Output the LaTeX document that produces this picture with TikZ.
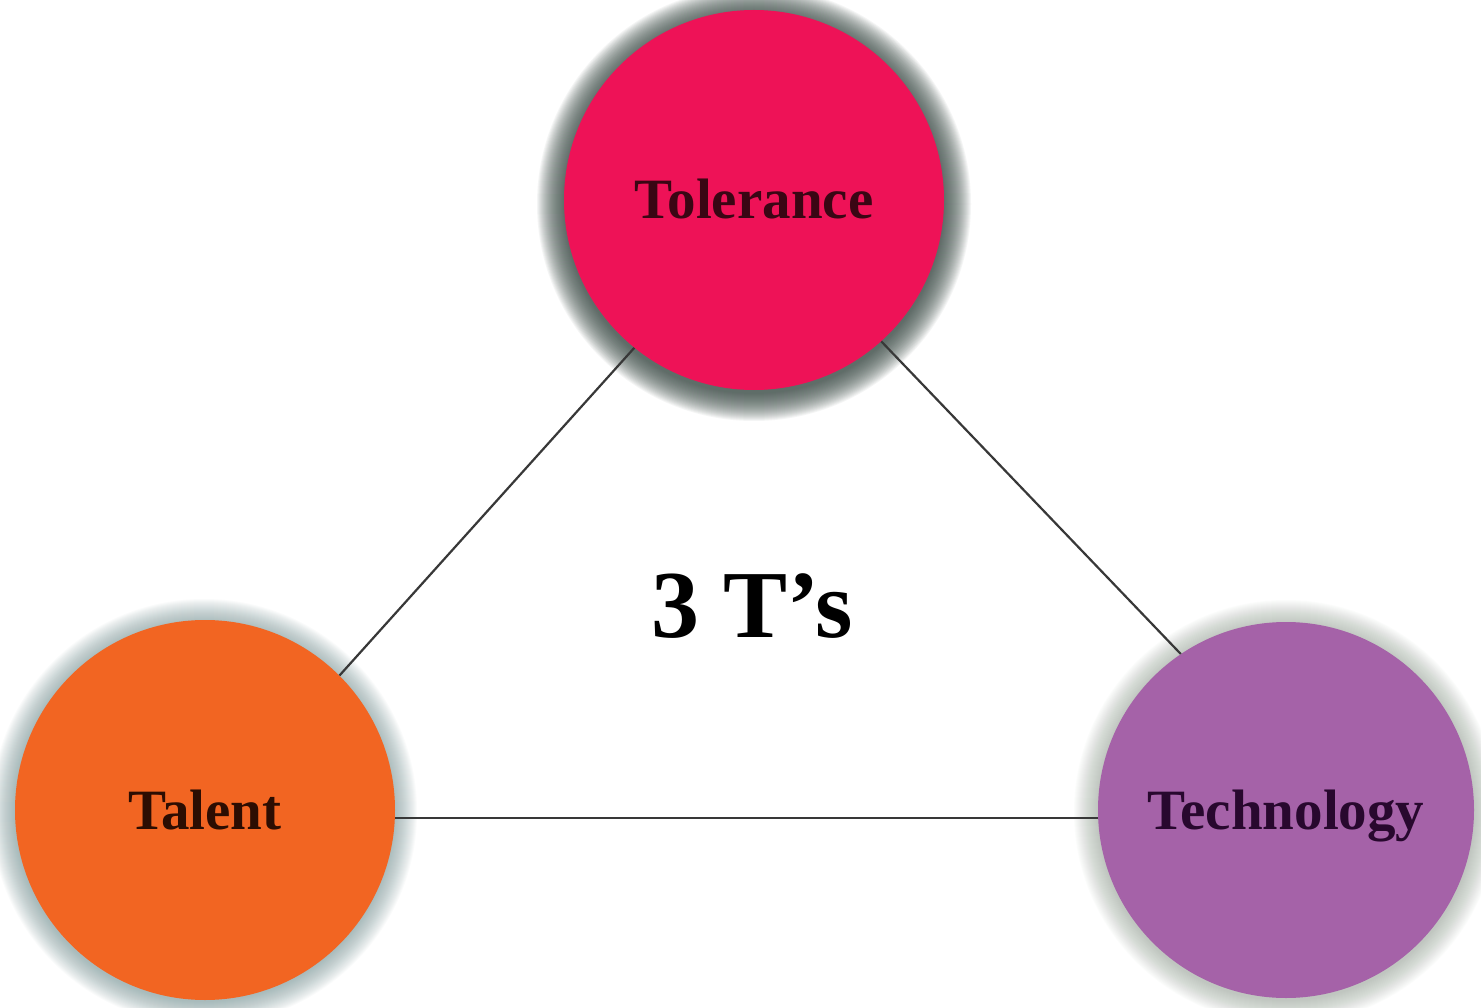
\documentclass[tikz,border=0pt]{standalone}
\usepackage{fontspec}
\setmainfont{Liberation Serif}
\definecolor{tolfill}{HTML}{EE1257}
\definecolor{talfill}{HTML}{F26522}
\definecolor{tecfill}{HTML}{A562A8}
\definecolor{tolglow}{HTML}{3A4A45}
\definecolor{talglow}{HTML}{6F8F90}
\definecolor{tecglow}{HTML}{8E9E8E}
\definecolor{toltext}{HTML}{3A0614}
\definecolor{taltext}{HTML}{2C0D02}
\definecolor{tectext}{HTML}{28082E}
\begin{document}
\begin{tikzpicture}[x=1pt,y=-1pt,
  bubble/.style={circle, draw=none, minimum size=380pt, inner sep=0pt,
    font=\bfseries\fontsize{57}{60}\selectfont, text height=38pt, text depth=0pt},
  link/.style={draw=black!78, line width=2.2pt},
  title/.style={font=\bfseries\fontsize{96}{100}\selectfont, text height=63pt, text depth=0pt, inner sep=0pt}]
\useasboundingbox[fill=white] (0,0) rectangle (1481,1008);
% glows
\foreach \i in {1,...,28}{
  \fill[tolglow, opacity=0.05] (754,204) circle ({189+\i});
}
\foreach \i in {1,...,24}{
  \fill[talglow, opacity=0.032] (204,812) circle ({189+\i});
}
\foreach \i in {1,...,24}{
  \fill[tecglow, opacity=0.028] (1286,812) circle ({188+\i});
}
% nodes
\node[bubble, fill=tolfill, text=toltext] (tol) at (754,200) {Tolerance};
\node[bubble, fill=talfill, text=taltext] (tal) at (205,810) {Talent};
\node[bubble, fill=tecfill, text=tectext, minimum size=376pt] (tec) at (1286,810) {Technology};
\node[title] (ts) at (752,606) {3 T’s};
% connectors
\draw[link] (tol.-129.6) -- (tal.45.6);
\draw[link] (tol.-48) -- (tec.124.4);
\draw[link] ([yshift=-8pt]tal.east) -- ([yshift=-8pt]tec.west);
\end{tikzpicture}
\end{document}
